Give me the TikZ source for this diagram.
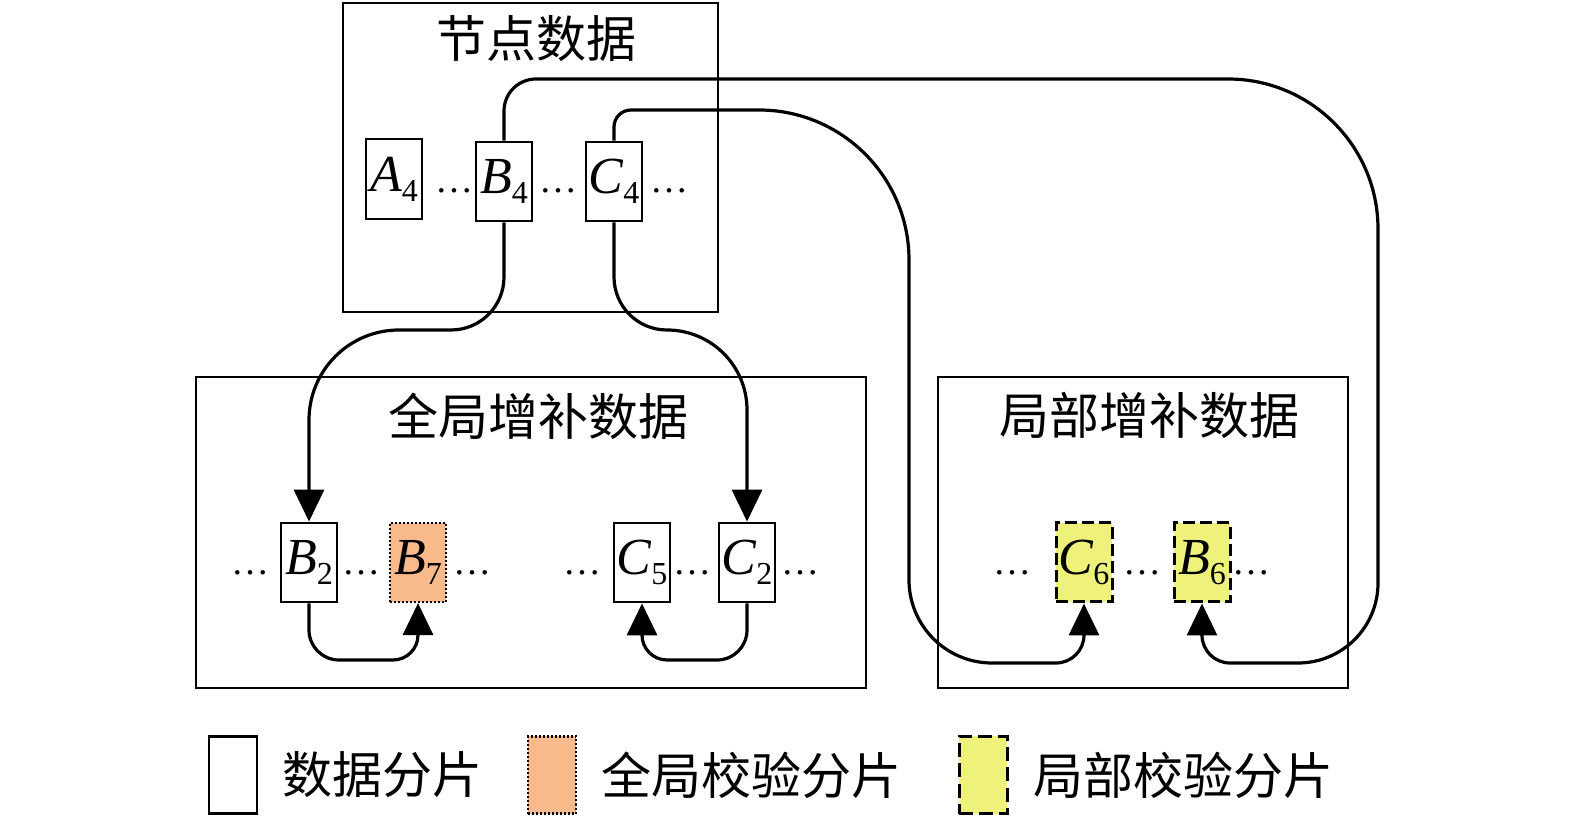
\documentclass[tikz,border=0pt]{standalone}
\usepackage{fontspec}
\setmainfont{Liberation Serif}
\newfontfamily\cjk{Noto Sans CJK SC}
\usetikzlibrary{arrows.meta}
\definecolor{gorange}{HTML}{F8BA8A}
\definecolor{lyellow}{HTML}{EEF27A}
\newcommand{\shd}[2]{{\fontsize{26pt}{26pt}\selectfont\itshape #1}{\fontsize{16pt}{16pt}\selectfont\raisebox{-5pt}{#2}}}
\newcommand{\dts}{{\fontsize{19pt}{19pt}\selectfont\char"2026}}
\begin{document}
\begin{tikzpicture}[x=0.5pt,y=-0.5pt,
  bigbox/.style={draw, line width=1.4pt, inner sep=0pt},
  shardbox/.style={draw, line width=1.4pt, inner sep=0pt, minimum width=28pt, minimum height=39.5pt, fill=white},
  gshard/.style={shardbox, fill=gorange, dash pattern=on 1pt off 1pt, line width=1.1pt},
  lshard/.style={shardbox, fill=lyellow, dash pattern=on 6pt off 2.5pt, line width=1.5pt},
  legbox/.style={draw, line width=1.4pt, inner sep=0pt, minimum width=24pt, minimum height=38.5pt},
  conn/.style={line width=1.6pt},
  arr/.style={conn, -{Triangle[length=16pt,width=15pt]}},
  dotsn/.style={inner sep=0pt},
  ttl/.style={inner sep=0pt, font=\cjk\fontsize{25pt}{25pt}\selectfont},
  legtxt/.style={inner sep=0pt, font=\cjk\fontsize{25pt}{25pt}\selectfont}]
\useasboundingbox (0,0) rectangle (1575,817);

% outer boxes
\node[bigbox, minimum width=187.5pt, minimum height=154.5pt] (top) at (530.5,157.5) {};
\node[bigbox, minimum width=335pt, minimum height=155.5pt] (gbox) at (531,532.5) {};
\node[bigbox, minimum width=205pt, minimum height=155.5pt] (lbox) at (1143,532.5) {};

% titles
\node[ttl] (ttop) at (536,39) {节点数据};
\node[ttl] (tg) at (538,416) {全局增补数据};
\node[ttl] (tl) at (1149,415) {局部增补数据};

% node data shards
\node[shardbox, minimum height=40pt] (A4) at (394,179) {\shd{A}{4}};
\node[shardbox] (B4) at (504,181.5) {\shd{B}{4}};
\node[shardbox] (C4) at (614,181.5) {\shd{C}{4}};
\node[dotsn] (d1) at (454,191) {\dts};
\node[dotsn] (d2) at (558.5,191) {\dts};
\node[dotsn] (d3) at (669,191) {\dts};

% global shards
\node[shardbox] (B2) at (309,562.5) {\shd{B}{2}};
\node[gshard] (B7) at (418,562.5) {\shd{B}{7}};
\node[shardbox] (C5) at (642,562.5) {\shd{C}{5}};
\node[shardbox] (C2) at (747,562.5) {\shd{C}{2}};
\node[dotsn] (d4) at (250,573) {\dts};
\node[dotsn] (d5) at (361.5,573) {\dts};
\node[dotsn] (d6) at (472,573) {\dts};
\node[dotsn] (d7) at (582.5,573) {\dts};
\node[dotsn] (d8) at (692,573) {\dts};
\node[dotsn] (d9) at (800.5,573) {\dts};

% local shards
\node[lshard] (C6) at (1084,562.5) {\shd{C}{6}};
\node[lshard] (B6) at (1202,562.5) {\shd{B}{6}};
\node[dotsn] (d10) at (1012.5,573) {\dts};
\node[dotsn] (d11) at (1142,573) {\dts};
\node[dotsn] (d12) at (1251.5,573) {\dts};

% connectors
\draw[arr] (B4.south) -- (504,277) .. controls (504,306.3) and (480.3,330) .. (451,330)
  -- (399,330) .. controls (349.3,330) and (309,370.3) .. (309,420) -- (B2.north);
\draw[arr] (C4.south) -- (614,277) .. controls (614,306.3) and (637.7,330) .. (667,330)
  .. controls (711.2,330) and (747,365.8) .. (747,410) -- (C2.north);
\draw[arr] (B4.north) -- (504,111) .. controls (504,93.3) and (518.3,79) .. (536,79)
  -- (1228,79) .. controls (1310.8,79) and (1378,146.2) .. (1378,229)
  -- (1378,583) .. controls (1378,627.2) and (1342.2,663) .. (1298,663)
  -- (1230,663) .. controls (1214.5,663) and (1202,650.5) .. (1202,635) -- (B6.south);
\draw[arr] (C4.north) -- (614,127) .. controls (614,117.6) and (621.6,110) .. (631,110)
  -- (759,110) .. controls (841.8,110) and (909,177.2) .. (909,260)
  -- (909,580) .. controls (909,625.8) and (946.2,663) .. (992,663)
  -- (1056,663) .. controls (1071.5,663) and (1084,650.5) .. (1084,635) -- (C6.south);
\draw[arr] (B2.south) -- (309,630) .. controls (309,646.6) and (322.4,660) .. (339,660)
  -- (393,660) .. controls (406.8,660) and (418,648.8) .. (418,635) -- (B7.south);
\draw[arr] (C2.south) -- (747,630) .. controls (747,646.6) and (733.6,660) .. (717,660)
  -- (667,660) .. controls (653.2,660) and (642,648.8) .. (642,635) -- (C5.south);

% legend
\node[legbox] (lg1) at (233,775) {};
\node[legtxt] (lt1) at (382,775) {数据分片};
\node[legbox, fill=gorange, dash pattern=on 1pt off 1pt, line width=1.1pt] (lg2) at (552,775) {};
\node[legtxt] (lt2) at (751,775) {全局校验分片};
\node[legbox, fill=lyellow, dash pattern=on 7pt off 3pt, line width=1.5pt] (lg3) at (983,775) {};
\node[legtxt] (lt3) at (1183,775) {局部校验分片};
\end{tikzpicture}
\end{document}
